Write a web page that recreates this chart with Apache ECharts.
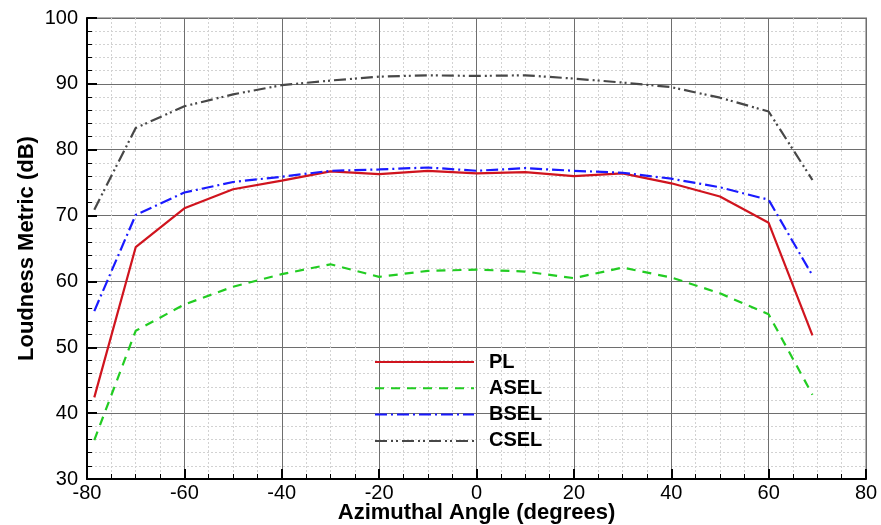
<!DOCTYPE html>
<html>
<head>
<meta charset="utf-8">
<script src="https://cdn.jsdelivr.net/npm/echarts@6/dist/echarts.min.js"></script>
<style>
  html, body { margin: 0; padding: 0; background: #ffffff; }
  #chart { width: 881px; height: 525px; }
</style>
</head>
<body>
<div id="chart"></div>
<script>
// Azimuthal angle samples (degrees)
const angles = [-78.5, -70, -60, -50, -40, -30, -20, -10, 0, 10, 20, 30, 40, 50, 60, 69];

// Loudness metrics (dB) at each angle
const plValues   = [42.4, 65.2, 71.1, 74.0, 75.3, 76.7, 76.3, 76.8, 76.4, 76.6, 76.0, 76.4, 74.9, 72.9, 68.9, 51.8];
const aselValues = [35.9, 52.5, 56.5, 59.2, 61.1, 62.6, 60.7, 61.6, 61.8, 61.5, 60.5, 62.1, 60.6, 58.2, 55.0, 42.8];
const bselValues = [55.5, 70.1, 73.5, 75.1, 75.9, 76.8, 77.0, 77.3, 76.8, 77.2, 76.8, 76.5, 75.6, 74.3, 72.4, 60.9];
const cselValues = [70.9, 83.3, 86.6, 88.4, 89.8, 90.5, 91.1, 91.3, 91.2, 91.3, 90.8, 90.2, 89.5, 87.9, 85.8, 75.4];

const seriesNames = ['PL', 'ASEL', 'BSEL', 'CSEL'];

const pair = vals => angles.map((a, i) => [a, vals[i]]);

const FONT = '"Liberation Sans", Arial, Helvetica, sans-serif';

const chart = echarts.init(document.getElementById('chart'), null, { renderer: 'canvas' });

const lineSeries = (name, vals, color, dash) => ({
  name,
  type: 'line',
  data: pair(vals),
  symbol: 'none',
  animation: false,
  lineStyle: { color, width: 2.2, type: dash },
  itemStyle: { color }
});

chart.setOption({
  backgroundColor: '#ffffff',
  animation: false,
  grid: {
    left: 87, right: 15, top: 18, bottom: 46,
    outerBoundsMode: 'none',
    containLabel: false,
    show: true, borderColor: '#b4b4b4', borderWidth: 2, backgroundColor: 'transparent'
  },
  legend: {
    data: seriesNames,
    orient: 'vertical',
    left: 369,
    top: 347,
    itemWidth: 99,
    itemHeight: 20,
    itemGap: 6.3,
    itemStyle: { opacity: 0 },
    textStyle: { fontFamily: FONT, fontWeight: 'bold', fontSize: 20, color: '#000', padding: [0, 0, 0, 10] },
    inactiveColor: '#ccc'
  },
  xAxis: {
    type: 'value',
    min: -80, max: 80, interval: 20,
    name: 'Azimuthal Angle (degrees)',
    nameLocation: 'middle',
    nameGap: 23,
    nameMoveOverlap: false,
    nameTextStyle: { fontFamily: FONT, fontWeight: 'bold', fontSize: 22, color: '#000' },
    axisLine: { show: true, onZero: false, lineStyle: { color: '#000', width: 2 } },
    axisTick: { show: true, inside: true, length: 10, lineStyle: { color: '#000', width: 2 } },
    minorTick: { show: true, splitNumber: 4, length: 5, lineStyle: { color: '#000', width: 1 } },
    axisLabel: { fontFamily: FONT, fontSize: 20, color: '#000', margin: 4 },
    splitLine: { show: true, lineStyle: { color: '#6e6e6e', width: 1 } },
    minorSplitLine: { show: true, lineStyle: { color: '#d2d2d2', width: 1, type: [2, 2] } }
  },
  yAxis: {
    type: 'value',
    min: 30, max: 100, interval: 10,
    name: 'Loudness Metric (dB)',
    nameLocation: 'middle',
    nameGap: 49,
    nameMoveOverlap: false,
    nameTextStyle: { fontFamily: FONT, fontWeight: 'bold', fontSize: 22, color: '#000' },
    axisLine: { show: true, onZero: false, lineStyle: { color: '#000', width: 2 } },
    axisTick: { show: true, inside: true, length: 10, lineStyle: { color: '#000', width: 2 } },
    minorTick: { show: true, splitNumber: 5, length: 5, lineStyle: { color: '#000', width: 1 } },
    axisLabel: { fontFamily: FONT, fontSize: 20, color: '#000', margin: 9 },
    splitLine: { show: true, lineStyle: { color: '#6e6e6e', width: 1 } },
    minorSplitLine: { show: true, lineStyle: { color: '#d2d2d2', width: 1, type: [2, 2] } }
  },
  series: [
    lineSeries('PL', plValues, '#d0141e', 'solid'),
    lineSeries('ASEL', aselValues, '#22cc22', [9, 7]),
    lineSeries('BSEL', bselValues, '#1a1aff', [12, 4, 2, 4]),
    lineSeries('CSEL', cselValues, '#474747', [12, 4, 2, 3, 2, 4])
  ]
});
</script>
</body>
</html>
